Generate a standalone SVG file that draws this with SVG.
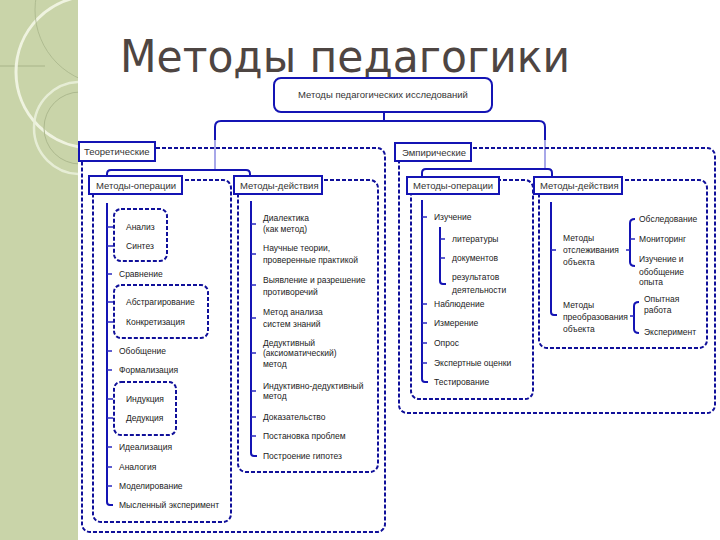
<svg xmlns="http://www.w3.org/2000/svg" width="720" height="540" viewBox="0 0 720 540">
<defs>
<clipPath id="strip"><rect x="0" y="0" width="78" height="540"/></clipPath>
<style>
.solid{fill:none;stroke:#1414b4;stroke-width:2}
.drop{fill:none;stroke:#7a7ade;stroke-width:1.3}
.dash{fill:none;stroke:#10109a;stroke-width:2;stroke-dasharray:4 2}
.lbl{fill:#fff;stroke:#1414b4;stroke-width:2}
.tick{fill:none;stroke:#2a2ac0;stroke-width:1.6}
.t{font-family:"Liberation Sans",Arial,sans-serif;font-size:8.5px;fill:#222}
.lt{font-family:"Liberation Sans",Arial,sans-serif;font-size:9.5px;fill:#333}
</style>
</defs>
<rect width="720" height="540" fill="#fff"/>
<g id="background">
<rect x="0" y="0" width="78" height="540" fill="#c9d4a9"/>
<g clip-path="url(#strip)">
<line x1="0" y1="66" x2="45" y2="66" stroke="#a8b489" stroke-width="1"/>
<circle cx="92" cy="72" r="76" fill="none" stroke="#f3f6e6" stroke-width="3" opacity="0.9"/>
<circle cx="110" cy="10" r="75" fill="none" stroke="#a9b58b" stroke-width="1" opacity="0.8"/>
<circle cx="80" cy="128" r="46" fill="none" stroke="#e9efd9" stroke-width="2.5" opacity="0.9"/>
<circle cx="80" cy="128" r="36" fill="none" stroke="#adb98e" stroke-width="1"/>
</g>
<text x="120" y="72" font-family="DejaVu Sans, sans-serif" font-size="44" fill="#4e4542" textLength="450" lengthAdjust="spacingAndGlyphs">Методы педагогики</text>
</g>
<g id="connectors">
<path class="solid" d="M384,112 V121"/>
<path class="solid" d="M215,140 V127 Q215,121 221,121 H539 Q545,121 545,127 V140"/>
<path class="drop" d="M215,140 V170 M545,140 V169"/>
<path class="solid" d="M107,176 V174 Q107,170 111,170 H246 Q250,170 250,174 V177"/>
<path class="solid" d="M422,177 V173 Q422,169 426,169 H548 Q552,169 552,173 V177"/>
</g>
<g id="root">
<rect x="274" y="78" width="218" height="34" rx="7" fill="#fff" class="solid"/>
<text class="lt" x="383" y="98" text-anchor="middle" font-size="10">Методы педагогических исследований</text>
</g>
<g id="theoretical">
<rect class="dash" x="82" y="148" width="303" height="384" rx="8"/>
<rect class="lbl" x="79" y="142" width="76" height="19"/>
<text class="lt" x="84" y="155" font-size="9">Теоретические</text>
</g>
<g id="theo-operations">
<rect class="dash" x="93" y="180" width="138" height="342" rx="8"/>
<rect class="lbl" x="89" y="176" width="93" height="18"/>
<text class="lt" x="96" y="188.5">Методы-операции</text>
<rect class="dash" x="114" y="209" width="53" height="52" rx="7"/>
<rect class="dash" x="114" y="285" width="94" height="53" rx="7"/>
<rect class="dash" x="114" y="382" width="62" height="53" rx="7"/>
<path class="solid" d="M107,203 V502 Q107,505 110,505 H113"/>
<path class="tick" d="M107,227 h6 M107,246 h6 M107,274 h5 M107,302 h6 M107,322 h6 M107,351 h5 M107,370 h5 M107,399 h6 M107,418 h6 M107,447 h5 M107,467 h5 M107,486 h5"/>
<text class="t" x="126" y="230">Анализ</text>
<text class="t" x="126" y="249">Синтез</text>
<text class="t" x="119" y="277">Сравнение</text>
<text class="t" x="126" y="305">Абстрагирование</text>
<text class="t" x="126" y="325">Конкретизация</text>
<text class="t" x="119" y="354">Обобщение</text>
<text class="t" x="119" y="373">Формализация</text>
<text class="t" x="126" y="402">Индукция</text>
<text class="t" x="126" y="421">Дедукция</text>
<text class="t" x="119" y="450">Идеализация</text>
<text class="t" x="119" y="470">Аналогия</text>
<text class="t" x="119" y="489">Моделирование</text>
<text class="t" x="119" y="508">Мысленный эксперимент</text>
</g>
<g id="theo-actions">
<rect class="dash" x="238" y="180" width="140" height="292" rx="8"/>
<rect class="lbl" x="234" y="176" width="88" height="18"/>
<text class="lt" x="240" y="188.5">Методы-действия</text>
<path class="solid" d="M251,201 V453 Q251,456 254,456 H257"/>
<path class="tick" d="M251,224 h5 M251,254 h5 M251,285 h5 M251,318 h5 M251,353 h5 M251,391 h5 M251,417 h5 M251,436 h5"/>
<text class="t" x="263" y="221">Диалектика</text>
<text class="t" x="263" y="232">(как метод)</text>
<text class="t" x="263" y="251">Научные теории,</text>
<text class="t" x="263" y="263">проверенные практикой</text>
<text class="t" x="263" y="283">Выявление и разрешение</text>
<text class="t" x="263" y="295">противоречий</text>
<text class="t" x="263" y="315">Метод анализа</text>
<text class="t" x="263" y="327">систем знаний</text>
<text class="t" x="263" y="346">Дедуктивный</text>
<text class="t" x="263" y="356">(аксиоматический)</text>
<text class="t" x="263" y="367">метод</text>
<text class="t" x="263" y="389">Индуктивно-дедуктивный</text>
<text class="t" x="263" y="399">метод</text>
<text class="t" x="263" y="420">Доказательство</text>
<text class="t" x="263" y="439">Постановка проблем</text>
<text class="t" x="263" y="459">Построение гипотез</text>
</g>
<g id="empirical">
<rect class="dash" x="399" y="148" width="316" height="265" rx="8"/>
<rect class="lbl" x="395" y="143" width="76" height="18"/>
<text class="lt" x="402" y="155.5" font-size="9">Эмпирические</text>
</g>
<g id="emp-operations">
<rect class="dash" x="411" y="180" width="122" height="219" rx="8"/>
<rect class="lbl" x="407" y="177" width="92" height="17"/>
<text class="lt" x="413" y="189">Методы-операции</text>
<path class="solid" d="M422,200 V379 Q422,382 425,382 H428"/>
<path class="tick" d="M422,217 h5 M422,304 h5 M422,323 h5 M422,343 h5 M422,363 h5"/>
<path class="solid" d="M440,227 V281 Q440,284 443,284 H446"/>
<path class="tick" d="M440,239 h5 M440,258 h5"/>
<text class="t" x="434" y="220">Изучение</text>
<text class="t" x="452" y="242">литературы</text>
<text class="t" x="452" y="261">документов</text>
<text class="t" x="452" y="280">результатов</text>
<text class="t" x="452" y="293">деятельности</text>
<text class="t" x="434" y="307">Наблюдение</text>
<text class="t" x="434" y="326">Измерение</text>
<text class="t" x="434" y="346">Опрос</text>
<text class="t" x="434" y="366">Экспертные оценки</text>
<text class="t" x="434" y="385">Тестирование</text>
</g>
<g id="emp-actions">
<rect class="dash" x="539" y="180" width="168" height="168" rx="8"/>
<rect class="lbl" x="534" y="177" width="88" height="17"/>
<text class="lt" x="540" y="189">Методы-действия</text>
<path class="solid" d="M551,202 V312 Q551,315 554,315 H557"/>
<path class="tick" d="M551,250 h5"/>
<text class="t" x="563" y="241">Методы</text>
<text class="t" x="563" y="253">отслеживания</text>
<text class="t" x="563" y="265">объекта</text>
<text class="t" x="563" y="308">Методы</text>
<text class="t" x="563" y="320">преобразования</text>
<text class="t" x="563" y="332">объекта</text>
<path class="solid" d="M635,219 Q630,219 630,223 V262 Q630,266 635,266"/>
<path class="tick" d="M630,239 h5 M630,250 h-4"/>
<path class="solid" d="M639,302 Q634,302 634,306 V329 Q634,333 639,333"/>
<path class="tick" d="M634,316 h-4"/>
<text class="t" x="639" y="222">Обследование</text>
<text class="t" x="639" y="242">Мониторинг</text>
<text class="t" x="639" y="262">Изучение и</text>
<text class="t" x="639" y="275">обобщение</text>
<text class="t" x="639" y="285">опыта</text>
<text class="t" x="644" y="302">Опытная</text>
<text class="t" x="644" y="313">работа</text>
<text class="t" x="644" y="335">Эксперимент</text>
</g>
</svg>
